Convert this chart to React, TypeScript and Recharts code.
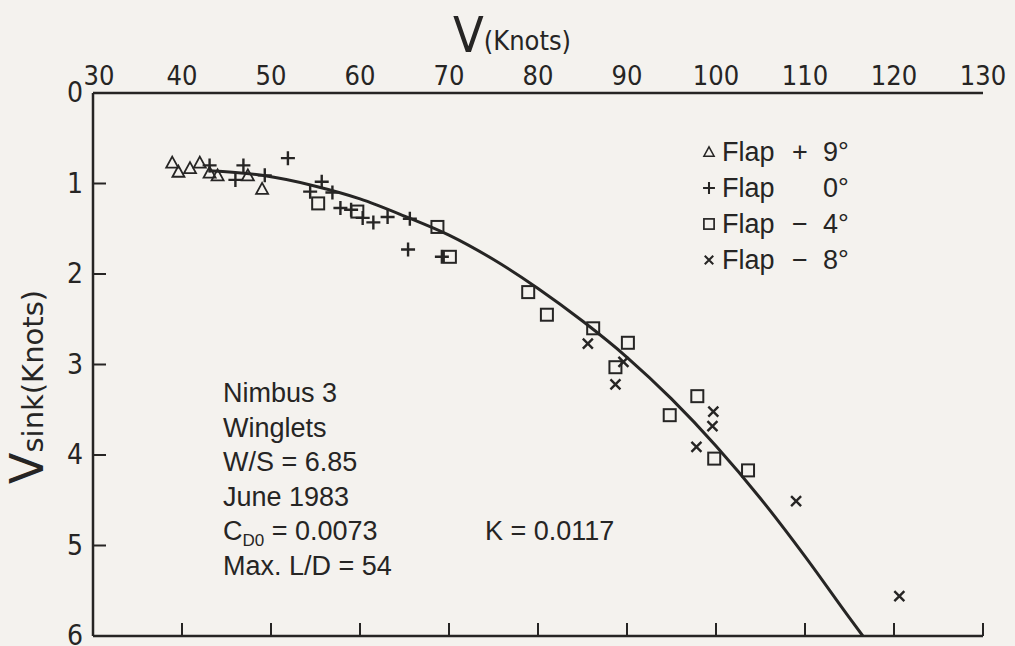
import { ComposedChart, Line, Scatter, XAxis, YAxis } from "recharts"

const speedTicks = [30, 40, 50, 60, 70, 80, 90, 100, 110, 120, 130]
const sinkTicks = [0, 1, 2, 3, 4, 5, 6]

// fitted polar (solid curve)
const polarSpeed = [43, 49, 55, 60, 65, 70, 75, 80, 85, 90, 95, 100, 105, 110, 115, 116.5]
const polarSink = [0.86, 0.91, 1.03, 1.17, 1.36, 1.57, 1.84, 2.16, 2.52, 2.92, 3.38, 3.9, 4.48, 5.12, 5.8, 6.0]

// flight test points
const flap9Speed = [38.9, 39.6, 40.9, 42.0, 43.1, 44.0, 47.4, 49.0]
const flap9Sink = [0.77, 0.87, 0.83, 0.77, 0.88, 0.91, 0.91, 1.06]

const flap0Speed = [43.1, 46.0, 46.9, 49.3, 51.9, 54.4, 55.7, 56.9, 57.8, 59.0, 60.3, 61.5, 63.1, 65.6, 65.4, 69.2]
const flap0Sink = [0.8, 0.96, 0.8, 0.91, 0.72, 1.09, 0.98, 1.1, 1.27, 1.29, 1.38, 1.43, 1.37, 1.39, 1.73, 1.81]

const flapM4Speed = [55.3, 59.7, 68.7, 70.1, 78.9, 81.0, 86.2, 90.1, 88.7, 97.9, 94.8, 99.8, 103.6]
const flapM4Sink = [1.22, 1.31, 1.48, 1.81, 2.2, 2.45, 2.6, 2.76, 3.03, 3.35, 3.56, 4.04, 4.17]

const flapM8Speed = [85.6, 89.6, 88.7, 99.7, 99.6, 97.8, 109.0, 120.6]
const flapM8Sink = [2.77, 2.97, 3.22, 3.52, 3.68, 3.91, 4.51, 5.56]

const notes = ["Nimbus 3", "Winglets", "W/S = 6.85", "June 1983"]

const ink = "#262524"
const paper = "#f4f2ee"
const narrow = "'Liberation Sans Narrow', 'DejaVu Sans Condensed', 'Liberation Sans', sans-serif"
const sans = "'Liberation Sans', Arial, sans-serif"
const wide = "'DejaVu Sans', 'Liberation Sans', sans-serif"

const zip = (xs: number[], ys: number[]) => xs.map((v, i) => ({ v, s: ys[i] }))

const Tri = ({ cx, cy }: any) => (
  <path d={`M${cx},${cy - 6} L${cx + 6},${cy + 5} L${cx - 6},${cy + 5} Z`} fill="none" stroke={ink} strokeWidth={1.8} />
)
const Plus = ({ cx, cy }: any) => (
  <path d={`M${cx - 7},${cy} H${cx + 7} M${cx},${cy - 7} V${cy + 7}`} stroke={ink} strokeWidth={2.4} />
)
const Sq = ({ cx, cy }: any) => (
  <rect x={cx - 6} y={cy - 6} width={12} height={12} fill="none" stroke={ink} strokeWidth={2} />
)
const Cross = ({ cx, cy }: any) => (
  <path d={`M${cx - 5},${cy - 5} L${cx + 5},${cy + 5} M${cx + 5},${cy - 5} L${cx - 5},${cy + 5}`} stroke={ink} strokeWidth={2.4} />
)

const TopTick = ({ x, y, payload }: any) => (
  <text x={x + (payload.value === 30 ? 6 : 0)} y={y - 8} textAnchor="middle" fontSize={27} fontFamily={narrow} fill={ink}>
    {payload.value}
  </text>
)

const NoLabel = () => <g />

const LeftTick = ({ x, y, payload }: any) => (
  <g>
    {payload.value > 0 && payload.value < 6 && <line x1={x} y1={y} x2={x + 13} y2={y} stroke={ink} strokeWidth={2} />}
    <text x={x - 10} y={y + 9} textAnchor="end" fontSize={28} fontFamily={narrow} fill={ink}>
      {payload.value}
    </text>
  </g>
)

export default function App() {
  const legend = [
    { shape: Tri, sign: "+", deg: "9°" },
    { shape: Plus, sign: "", deg: "0°" },
    { shape: Sq, sign: "−", deg: "4°" },
    { shape: Cross, sign: "−", deg: "8°" }
  ]

  return (
    <div style={{ position: "absolute", left: 0, top: 0, width: 1015, height: 646, background: paper }}>
      <ComposedChart width={1015} height={646} margin={{ top: 33, right: 32, bottom: 10, left: 33 }}>
        <XAxis
          xAxisId="top"
          orientation="top"
          type="number"
          dataKey="v"
          domain={[30, 130]}
          ticks={speedTicks}
          height={60}
          tickSize={0}
          tickMargin={0}
          tickLine={false}
          tick={TopTick}
          axisLine={{ stroke: ink, strokeWidth: 2.5 }}
          allowDataOverflow
        />
        <XAxis
          xAxisId="bottom"
          orientation="bottom"
          type="number"
          dataKey="v"
          domain={[30, 130]}
          ticks={speedTicks.slice(1)}
          interval={0}
          height={10}
          mirror
          tickSize={13}
          tick={NoLabel}
          tickLine={{ stroke: ink, strokeWidth: 2 }}
          axisLine={{ stroke: ink, strokeWidth: 2.5 }}
          allowDataOverflow
        />
        <YAxis
          type="number"
          dataKey="s"
          domain={[0, 6]}
          ticks={sinkTicks}
          reversed
          width={60}
          tickSize={0}
          tickMargin={0}
          tickLine={false}
          tick={LeftTick}
          axisLine={{ stroke: ink, strokeWidth: 2.5 }}
          allowDataOverflow
        />
        <Line
          xAxisId="bottom"
          data={zip(polarSpeed, polarSink)}
          dataKey="s"
          type="monotone"
          stroke={ink}
          strokeWidth={3}
          dot={false}
          isAnimationActive={false}
        />
        <Scatter xAxisId="top" data={zip(flap9Speed, flap9Sink)} shape={Tri} isAnimationActive={false} />
        <Scatter xAxisId="top" data={zip(flap0Speed, flap0Sink)} shape={Plus} isAnimationActive={false} />
        <Scatter xAxisId="top" data={zip(flapM4Speed, flapM4Sink)} shape={Sq} isAnimationActive={false} />
        <Scatter xAxisId="top" data={zip(flapM8Speed, flapM8Sink)} shape={Cross} isAnimationActive={false} />
      </ComposedChart>

      <svg width={1015} height={646} style={{ position: "absolute", left: 0, top: 0, pointerEvents: "none" }}>
        {/* axis titles */}
        <text x={453} y={52} fontFamily={narrow} fill={ink}>
          <tspan fontSize={50}>V</tspan>
          <tspan fontSize={27} dy={-2}>(Knots)</tspan>
        </text>
        <text transform="translate(43,484) rotate(-90)" fontFamily={wide} fill={ink}>
          <tspan fontSize={46}>V</tspan>
          <tspan fontSize={29}>sink(Knots)</tspan>
        </text>

        {/* legend */}
        {legend.map((l, i) => {
          const base = 161 + i * 36
          const Mark = l.shape
          return (
            <g key={i}>
              <g transform={`translate(709,${base - 9}) scale(0.85)`}>
                <Mark cx={0} cy={0} />
              </g>
              <text x={722} y={base} fontSize={27} fontFamily={sans} fill={ink}>Flap</text>
              <text x={800} y={base} fontSize={27} fontFamily={sans} fill={ink} textAnchor="middle">{l.sign}</text>
              <text x={823} y={base} fontSize={27} fontFamily={sans} fill={ink}>{l.deg}</text>
            </g>
          )
        })}

        {/* annotation */}
        <g fontSize={27} fontFamily={sans} fill={ink}>
          {notes.map((t, i) => (
            <text key={t} x={223} y={402 + i * 34.5}>{t}</text>
          ))}
          <text x={223} y={540}>
            C<tspan fontSize={17} dy={6}>D0</tspan>
            <tspan dy={-6}> = 0.0073</tspan>
          </text>
          <text x={485} y={540}>K = 0.0117</text>
          <text x={223} y={575}>Max. L/D = 54</text>
        </g>
      </svg>
    </div>
  )
}
